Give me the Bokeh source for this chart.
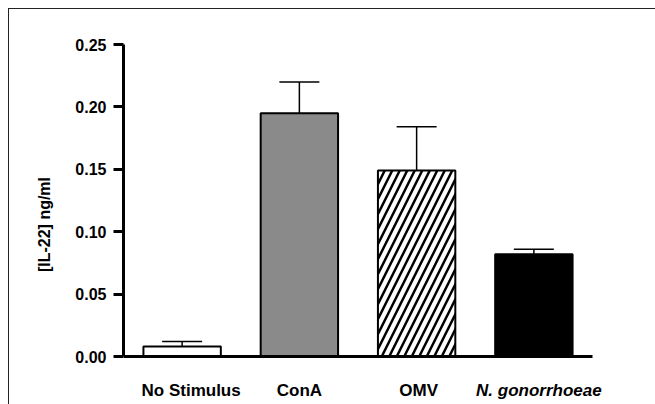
from bokeh.plotting import figure
from bokeh.models import (ColumnDataSource, Range1d, FixedTicker, PrintfTickFormatter,
                          Whisker, TeeHead, InlineStyleSheet)
from bokeh.core.properties import value
from bokeh.embed import file_html
from bokeh.resources import INLINE

# ---- data ----
categories = ["No Stimulus", "ConA", "OMV", "N. gonorrhoeae"]
means = [0.008, 0.195, 0.149, 0.082]
errors = [0.004, 0.025, 0.035, 0.004]
y_ticks = [0.0, 0.05, 0.10, 0.15, 0.20, 0.25]

# ---- styles ----
fills = ["white", "#8a8a8a", "white", "black"]
hatches = [" ", " ", "/", " "]
label_styles = ["bold", "bold", "bold", "bold italic"]
label_shift = [9, 0, 2, 5]

# ---- layout (pixels) ----
W, H = 655, 404
LEFT, TOP = 123, 44          # frame left / top
AXIS_RIGHT, AXIS_BOTTOM = 592, 356   # end of x axis, y=0 line
LABEL_Y = 390                # centre of category labels

xs = list(range(len(categories)))
src = ColumnDataSource(dict(
    x=xs, top=means, upper=[m + e for m, e in zip(means, errors)],
    fill=fills, hatch=hatches))

x0, x1 = -0.5, len(categories) - 0.5
xs_per_px = (x1 - x0) / (AXIS_RIGHT - LEFT)
y_top = y_ticks[-1]
ys_per_px = y_top / (AXIS_BOTTOM - TOP)

p = figure(width=W, height=H, output_backend="svg", toolbar_location=None,
           x_range=Range1d(x0, x1 + (W - AXIS_RIGHT) * xs_per_px),
           y_range=Range1d(-(H - AXIS_BOTTOM) * ys_per_px, y_top),
           min_border_left=LEFT, min_border_right=0, min_border_top=TOP,
           min_border_bottom=0)
p.stylesheets = [InlineStyleSheet(css=""":host { position: relative; }
:host::after { content: ''; position: absolute; left: 8px; top: 8px; right: 0; bottom: 0;
 border-left: 1px solid #222; border-top: 1px solid #222; pointer-events: none; z-index: 10; }""")]
p.outline_line_color = None
p.background_fill_color = "white"
p.border_fill_color = "white"
p.grid.visible = False

p.vbar(x="x", top="top", bottom=0, width=0.66, source=src, fill_color="fill",
       line_color="black", line_width=2, hatch_pattern="hatch", hatch_color="black",
       hatch_scale=15, hatch_weight=2.5)

wh = Whisker(base="x", lower="top", upper="upper", source=src, dimension="height",
             line_color="black", line_width=1.5,
             upper_head=TeeHead(size=40, line_color="black", line_width=1.5),
             lower_head=None)
p.add_layout(wh)

# y axis
ya = p.yaxis[0]
ya.bounds = (0, y_top)
ya.ticker = FixedTicker(ticks=y_ticks)
ya.formatter = PrintfTickFormatter(format="%.2f")
ya.axis_label = "[IL-22] ng/ml"
ya.axis_label_text_font = "Liberation Sans"
ya.axis_label_text_font_style = "bold"
ya.axis_label_text_font_size = "16px"
ya.axis_label_text_color = "black"
ya.axis_label_standoff = 19
ya.major_label_text_font = "Liberation Sans"
ya.major_label_text_font_style = "bold"
ya.major_label_text_font_size = "16px"
ya.major_label_text_color = "black"
ya.major_label_standoff = 7
ya.axis_line_width = 3
ya.axis_line_color = "black"
ya.major_tick_line_width = 3
ya.major_tick_out = 10
ya.major_tick_in = 0
ya.minor_tick_line_color = None

# x axis: line only, fixed at y = 0
xa = p.xaxis[0]
xa.fixed_location = 0
xa.bounds = (x0, x1)
xa.ticker = FixedTicker(ticks=[])
xa.major_label_text_font_size = "0px"
xa.major_tick_out = 0
xa.major_tick_in = 0
xa.major_tick_line_color = None
xa.minor_tick_line_color = None
xa.axis_line_width = 3
xa.axis_line_color = "black"

# category labels below the axis
lab = ColumnDataSource(dict(x=xs, text=categories, style=label_styles, dx=label_shift))
p.text(x="x", y=-(LABEL_Y - AXIS_BOTTOM) * ys_per_px, text="text", source=lab,
       x_offset="dx", text_align="center", text_baseline="middle",
       text_font=value("Liberation Sans"), text_font_style="style",
       text_font_size="17px", text_color="black")

open("out.html", "w").write(file_html(p, INLINE))
